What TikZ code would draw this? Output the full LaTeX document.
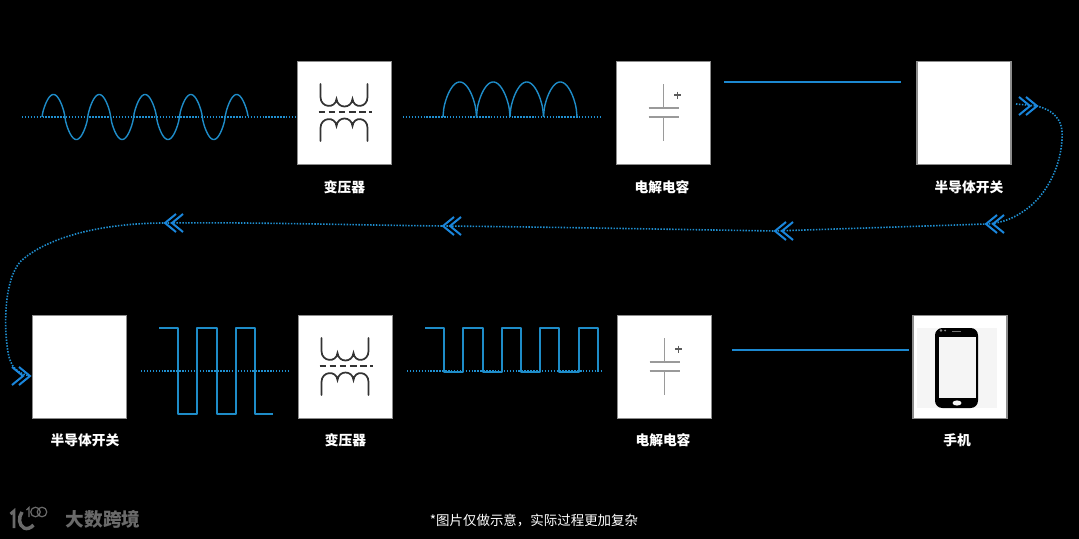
\documentclass[tikz,border=0pt]{standalone}
\usepackage{fontspec}
\setmainfont{Noto Sans CJK SC}
\usetikzlibrary{calc}
\definecolor{wave}{HTML}{1E8CC8}
\definecolor{chev}{HTML}{1A86DC}
\definecolor{dots}{HTML}{1F8FD0}
\definecolor{linec}{HTML}{1C88D0}
\definecolor{edgec}{HTML}{8C8C8C}
\definecolor{capc}{HTML}{9A9A9A}
\definecolor{coilc}{HTML}{333333}
\definecolor{logoc}{HTML}{6A6A6A}
\tikzset{
  x=0.75pt,y=-0.75pt,
  tile/.style={draw=edgec,fill=white,line width=0.9pt,minimum width=70.5pt,minimum height=77.5pt,inner sep=0pt,outer sep=0pt},
  caption/.style={text=white,font=\fontsize{10.3pt}{12pt}\selectfont\bfseries,inner sep=0pt},
  note/.style={text=white,font=\fontsize{10.1pt}{12pt}\selectfont,inner sep=0pt},
  wavey/.style={draw=wave,line width=1.05pt,line join=round},
  flat/.style={draw=linec,line width=1.05pt},
  dotty/.style={draw=dots,line width=1.2pt,dash pattern=on 1.1pt off 1.1pt},
  coil/.style={draw=coilc,line width=1.3pt,line cap=round},
  capline/.style={draw=capc,line width=1.2pt},
  chevs/.pic={
    \draw[chev,line width=1.5pt] (-11,-9) -- (0,0) -- (-11,9) (-18,-9) -- (-7,0) -- (-18,9);
  },
  xfmr/.pic={
    \draw[coil] (-24,-29) -- (-24,-16) .. controls (-24,-5) and (-9,-4) .. (-8,-14)
       .. controls (-7,-4) and (7,-4) .. (8,-14) .. controls (9,-4) and (23,-5) .. (23,-16) -- (23,-29);
    \draw[coil,line cap=butt,dash pattern=on 5pt off 2.6pt] (-26,-1) -- (27,-1);
    \draw[coil] (-24,28) -- (-24,15) .. controls (-24,4) and (-9,3) .. (-8,13)
       .. controls (-7,3) and (7,3) .. (8,13) .. controls (9,3) and (23,4) .. (23,15) -- (23,28);
  },
  capi/.pic={
    \draw[capline] (0,-29) -- (0,-5) (-15,-5) -- (15,-5) (-15,4) -- (15,4) (0,4) -- (0,28);
    \draw[draw=coilc!80,line width=1pt] (10.5,-18) -- (17.5,-18) (14,-21.5) -- (14,-14.5);
  }
}
\begin{document}
\begin{tikzpicture}
\useasboundingbox (0,0) rectangle (1079,539);
\fill[black] (0,0) rectangle (1079,539);

% tiles
\node[tile] (t1) at (344.5,113) {};
\node[tile] (c1) at (663.5,113) {};
\node[tile] (s1) at (964,113) {};
\node[tile] (s2) at (79.5,367) {};
\node[tile] (t2) at (345.5,367) {};
\node[tile] (c2) at (664.5,367) {};
\node[tile] (ph) at (960,367) {};

\pic at (t1) {xfmr};
\pic at (t2) {xfmr};
\pic at (c1) {capi};
\pic at (c2) {capi};

% phone
\fill[black!4] (917,328) rectangle (997,408);
\fill[black,rounded corners=5.5pt] (935,328) rectangle (978,408);
\fill[black!4] (938.5,337) rectangle (976,398);
\fill[black!4] (957,403) ellipse (4.5 and 2.6);
\draw[black!55,line width=0.7pt] (952,331.5) -- (961,331.5);
\fill[black!45] (941,330.5) circle (1.3) (945,330.5) circle (1);

% labels
\node[caption] (l1) at (344.5,187.5) {变压器};
\node[caption] (l2) at (662,187.5) {电解电容};
\node[caption] (l3) at (969,187.5) {半导体开关};
\node[caption] (l4) at (85,440.5) {半导体开关};
\node[caption] (l5) at (345.5,440.5) {变压器};
\node[caption] (l6) at (663,440.5) {电解电容};
\node[caption] (l7) at (957,440.5) {手机};
\node[note] (n) at (534,520) {*图片仅做示意，实际过程更加复杂};

% coordinates for connector ends
\coordinate (a0) at (22,117);
\coordinate (a9) at (297,117);
\coordinate (a1) at (403,117);
\coordinate (a2) at (600,117);
\coordinate (b0) at (141,371);
\coordinate (b1) at (290,371);
\coordinate (b2) at (407,371);
\coordinate (b3) at (601,371);
\coordinate (f1) at (724,82);
\coordinate (f2) at (901,82);
\coordinate (f3) at (732,350);
\coordinate (f4) at (909,350);
\coordinate (k1) at (1016,104);
\coordinate (k2) at (1037,106);
\coordinate (k3) at (986,224);
\coordinate (k4) at (775,231);
\coordinate (k5) at (443,226);
\coordinate (k6) at (165,223);
\coordinate (k7) at (30,376);

% dotted axes
\draw[dotty] (a0) -- (a9);
\draw[dotty] (a1) -- (a2);
\draw[dotty] (b0) -- (b1);
\draw[dotty] (b2) -- (b3);

% sine (slightly squared so the crests are round like the reference)
\draw[wavey] plot[domain=0:4.5,samples=220] ({42+45.8*\x},{117-22.5*sign(sin(360*\x))*pow(abs(sin(360*\x)),0.72)});
% rectified
\draw[wavey] plot[domain=0:1,samples=50] ({443+33.5*\x},{117-35*pow(abs(sin(180*\x)),0.55)});
\draw[wavey] plot[domain=0:1,samples=50] ({476.5+33.5*\x},{117-35*pow(abs(sin(180*\x)),0.55)});
\draw[wavey] plot[domain=0:1,samples=50] ({510+33.5*\x},{117-35*pow(abs(sin(180*\x)),0.55)});
\draw[wavey] plot[domain=0:1,samples=50] ({543.5+33.5*\x},{117-35*pow(abs(sin(180*\x)),0.55)});

% square waves
\draw[wavey] (159,328) -- (178,328) -- (178,414) -- (197,414) -- (197,328) -- (217,328) -- (217,414) -- (236,414) -- (236,328) -- (255,328) -- (255,414) -- (273,414);
\draw[wavey] (425,328) -- (444,328) -- (444,372) -- (463,372) -- (463,328) -- (483,328) -- (483,372) -- (502,372) -- (502,328) -- (521,328) -- (521,372) -- (540,372) -- (540,328) -- (559,328) -- (559,372) -- (579,372) -- (579,328) -- (598,328) -- (598,372);

% flat lines
\draw[flat] (f1) -- (f2);
\draw[flat] (f3) -- (f4);

% long dotted route
\draw[dotty] (k1) -- (k2) .. controls (1052,110) and (1064,118) .. (1062,140)
  .. controls (1060,170) and (1045,195) .. (1028,208)
  .. controls (1015,218) and (1003,223) .. (k3)
  -- (k4) .. controls (650,229) and (550,227) .. (k5)
  .. controls (350,225) and (250,222) .. (k6)
  .. controls (100,223) and (45,238) .. (20,262)
  .. controls (5,280) and (4,320) .. (7,345)
  .. controls (9,362) and (12,372) .. (k7);

% chevrons
\pic at (k2) {chevs};
\pic[rotate=180] at (k3) {chevs};
\pic[rotate=180] at (k4) {chevs};
\pic[rotate=180] at (k5) {chevs};
\pic[rotate=180] at (k6) {chevs};
\pic at (k7) {chevs};

% logo
\draw[logoc,line width=2.2pt] (10.5,514) -- (14,511) -- (14,528);
\draw[logoc,line width=2.6pt] (22,512) .. controls (18,518) and (19,525) .. (24,528) .. controls (27,529.5) and (31,528) .. (33.5,525);
\draw[logoc,line width=0.9pt] (26.5,510) -- (29,507.5) -- (29,517);
\draw[logoc,line width=0.9pt] (35.5,512) circle (4.8);
\draw[logoc,line width=0.9pt] (42,512) circle (4.8);
\node[text=logoc,font=\fontsize{14pt}{16pt}\selectfont\bfseries,inner sep=0pt] (lg) at (103,519) {大数跨境};
\end{tikzpicture}
\end{document}
